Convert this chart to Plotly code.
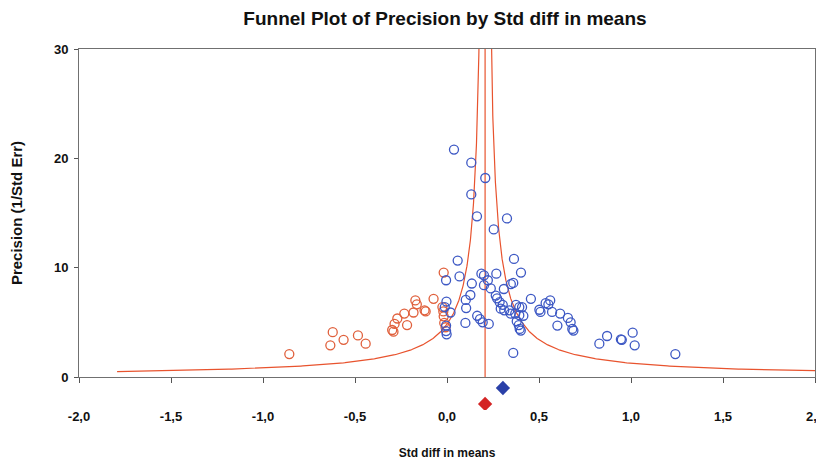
import numpy as np
import plotly.graph_objects as go

# ---- data ----
blue_x = [0.038, 0.132, 0.208, 0.132, 0.163, 0.326, 0.254,
          0.058, 0.364, 0.068, 0.187, 0.201, 0.268, 0.402,
          -0.005, 0.135, 0.222, 0.201, 0.347, 0.360, 0.238, 0.309,
          0.127, 0.265, 0.456, -0.003, 0.102, 0.272, 0.286, 0.303,
          0.375, 0.393, 0.408, 0.536, 0.561, 0.551, 0.104, 0.292, 0.311,
          -0.012, 0.019, 0.339, 0.346, 0.371, 0.393, 0.415,
          0.502, 0.508, 0.571, 0.615, 0.657, 0.600, 0.672, 0.681, 0.687,
          0.164, 0.179, 0.194, 0.100, 0.227, 0.379, 0.390, 0.395, 0.401,
          -0.005, -0.005, -0.002, 0.360, 0.828, 0.870, 0.945, 0.950, 1.009, 1.020, 1.241]
blue_y = [20.8, 19.6, 18.2, 16.7, 14.7, 14.5, 13.5,
          10.65, 10.8, 9.2, 9.45, 9.3, 9.45, 9.55,
          8.85, 8.55, 8.85, 8.4, 8.5, 8.6, 8.1, 8.05,
          7.5, 7.45, 7.15, 6.9, 7.05, 7.2, 6.85, 6.6,
          6.6, 6.4, 6.4, 6.75, 7.0, 6.65, 6.3, 6.25, 6.1,
          6.4, 5.9, 6.1, 5.8, 5.8, 5.65, 5.6,
          6.15, 5.95, 5.95, 5.8, 5.4, 4.7, 5.0, 4.4, 4.25,
          5.6, 5.3, 5.0, 4.95, 4.85, 5.1, 4.75, 4.4, 4.25,
          4.7, 4.2, 3.9, 2.2, 3.05, 3.75, 3.45, 3.4, 4.05, 2.9, 2.1]

red_x = [-0.857, -0.621, -0.634, -0.562, -0.484, -0.442,
         -0.298, -0.291, -0.285, -0.270, -0.232, -0.217, -0.182,
         -0.172, -0.164, -0.122, -0.116, -0.073, -0.018,
         -0.025, -0.020, -0.018, -0.015, -0.008]
red_y = [2.1, 4.1, 2.9, 3.4, 3.8, 3.05,
         4.3, 4.15, 4.85, 5.35, 5.8, 4.75, 5.9,
         7.0, 6.65, 6.1, 6.0, 7.15, 9.55,
         6.4, 6.0, 5.55, 4.95, 4.55]

summary_observed = 0.304   # blue diamond
summary_adjusted = 0.207   # red diamond / funnel centre
funnel_k = 1.0
precision_min, precision_max = 0.5, 40.0

x_tickvals = [-2.0, -1.5, -1.0, -0.5, 0.0, 0.5, 1.0, 1.5, 2.0]
x_ticktext = ["-2,0", "-1,5", "-1,0", "-0,5", "0,0", "0,5", "1,0", "1,5", "2,0"]
y_tickvals = [0, 10, 20, 30]

FONT = "Liberation Sans Narrow, Liberation Sans, Arial"
LINE_C = "#e8532e"
BLUE_C = "#3d58c4"
RED_C = "#e0603c"

# layout geometry (pixels, inside the figure div; the page adds an 8px body margin)
W, H = 816, 460
LEFT, RIGHT = 71, 807
TOP, PLOT_BOTTOM, STRIP_BOTTOM = 41, 369, 402
main_frac = (STRIP_BOTTOM - PLOT_BOTTOM) / (STRIP_BOTTOM - TOP)

fig = go.Figure()

# funnel limits
p = np.geomspace(precision_min, precision_max, 400)
fig.add_trace(go.Scatter(x=summary_adjusted - funnel_k / p, y=p, mode="lines",
                         line=dict(color=LINE_C, width=1.2), hoverinfo="skip", showlegend=False))
fig.add_trace(go.Scatter(x=summary_adjusted + funnel_k / p, y=p, mode="lines",
                         line=dict(color=LINE_C, width=1.2), hoverinfo="skip", showlegend=False))
fig.add_trace(go.Scatter(x=[summary_adjusted, summary_adjusted], y=[0, 30], mode="lines",
                         line=dict(color=LINE_C, width=1.2), hoverinfo="skip", showlegend=False))

fig.add_trace(go.Scatter(x=red_x, y=red_y, mode="markers",
                         marker=dict(symbol="circle-open", size=9, color=RED_C, line=dict(width=1.3)),
                         showlegend=False))
fig.add_trace(go.Scatter(x=blue_x, y=blue_y, mode="markers",
                         marker=dict(symbol="circle-open", size=9, color=BLUE_C, line=dict(width=1.3)),
                         showlegend=False))

# summary diamonds in a strip below the axis (yaxis2, pixel-offset scale)
fig.add_trace(go.Scatter(x=[summary_observed], y=[-11], yaxis="y2", mode="markers",
                         marker=dict(symbol="diamond", size=11, color="#2a40a8"), showlegend=False))
fig.add_trace(go.Scatter(x=[summary_adjusted], y=[-27], yaxis="y2", mode="markers",
                         marker=dict(symbol="diamond", size=11, color="#d42424"), showlegend=False))

fig.update_layout(
    width=W, height=H,
    margin=dict(l=LEFT, r=W - RIGHT, t=TOP, b=H - STRIP_BOTTOM),
    paper_bgcolor="white", plot_bgcolor="white",
    font=dict(family=FONT, color="#111111"),
    title=dict(text="<b>Funnel Plot of Precision by Std diff in means</b>",
               x=0.5355, xanchor="center", y=0.978, yanchor="middle", yref="container",
               font=dict(size=19, family=FONT, color="#111111")),
    yaxis2=dict(domain=[0, main_frac], range=[-(STRIP_BOTTOM - PLOT_BOTTOM), 0],
                visible=False, anchor="x", fixedrange=True),
)
fig.update_xaxes(range=[-2, 2], tickvals=x_tickvals, ticktext=x_ticktext, anchor="y",
                 showgrid=False, zeroline=False, showline=True, linecolor="#707070", linewidth=1,
                 mirror=True, ticks="outside", ticklen=5, tickcolor="#555555",
                 ticklabelstandoff=22, automargin=False, ticklabeloverflow="allow",
                 tickfont=dict(size=13, family=FONT, color="#111111", weight="bold"),
                 title=dict(text="<b>Std diff in means</b>", standoff=26,
                            font=dict(size=12, family=FONT, color="#111111")))
fig.update_layout(yaxis=dict(domain=[main_frac, 1], range=[0, 30], tickvals=y_tickvals,
                             showgrid=False, zeroline=False, showline=True, linecolor="#707070",
                             linewidth=1, mirror=True, ticks="outside", ticklen=4,
                             tickcolor="#555555", automargin=False, ticklabelstandoff=3,
                             tickfont=dict(size=13, family=FONT, color="#111111", weight="bold"),
                             title=dict(text="<b>Precision (1/Std Err)</b>", standoff=33,
                                        font=dict(size=15, family=FONT, color="#111111"))))

fig.write_html("out.html")
